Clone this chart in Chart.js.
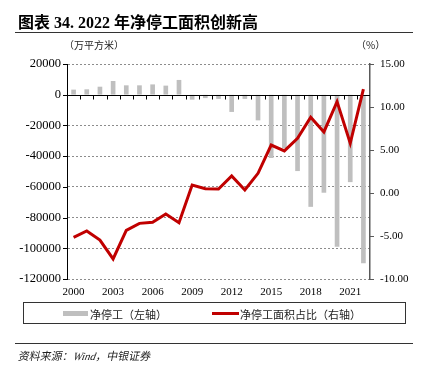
<!DOCTYPE html>
<html>
<head>
<meta charset="utf-8">
<script src="https://cdn.jsdelivr.net/npm/chart.js@4/dist/chart.umd.min.js"></script>
<style>
  body { margin: 0; background: #fff; }
  #wrap { position: relative; width: 423px; height: 368px; overflow: hidden; }
  #wrap canvas { position: absolute; left: 0; top: 0; }
  .txt { position: absolute; white-space: nowrap; color: #000; font-family: "Liberation Serif", "Noto Sans CJK SC", serif; }
  .rule { position: absolute; left: 15px; width: 398px; height: 1px; background: #333; }
  #legend { position: absolute; left: 23px; top: 302px; width: 381px; height: 20px; border: 1px solid #333; }
  .sw { position: absolute; }
  .lg { position: absolute; top: 3px; font: 11px "Noto Sans CJK SC", sans-serif; color: #222; }
</style>
</head>
<body>
<div id="wrap">
  <canvas id="chart" width="423" height="368"></canvas>
  <div class="txt" style="left:18px;top:9px;font-weight:bold;font-size:16px;">图表 34. 2022 年净停工面积创新高</div>
  <div class="rule" style="top:32px;"></div>
  <div class="txt" style="left:64px;top:37px;font:10px 'Noto Sans CJK SC',sans-serif;color:#222;">（万平方米）</div>
  <div class="txt" style="left:356px;top:37px;font:10px 'Noto Sans CJK SC',sans-serif;color:#222;">（%）</div>
  <div id="legend">
    <div class="sw" style="left:39px;top:8px;width:25px;height:5px;background:#bfbfbf;"></div>
    <div class="lg" style="left:66px;">净停工（左轴）</div>
    <div class="sw" style="left:188px;top:9px;width:27px;height:3px;background:#c00000;"></div>
    <div class="lg" style="left:216px;">净停工面积占比（右轴）</div>
  </div>
  <div class="rule" style="top:343px;"></div>
  <div class="txt" style="left:17px;top:347px;font:11px 'Liberation Serif','Noto Sans CJK SC',serif;color:#222;transform:skewX(-12deg);transform-origin:left bottom;">资料来源：<i>Wind</i>，中银证券</div>
</div>
<script>
const years = ['2000','2001','2002','2003','2004','2005','2006','2007','2008','2009','2010',
               '2011','2012','2013','2014','2015','2016','2017','2018','2019','2020','2021','2022'];
// 净停工（万平方米）
const netStoppage = [3100, 3300, 5000, 8700, 5900, 5900, 6500, 5700, 9400, -3000, -2000,
                     -2500, -11000, -2500, -16500, -41000, -34700, -49500, -72800, -63600, -98800, -56700, -109500];
// 净停工面积占比（%）
const stoppageShare = [-5.15, -4.42, -5.47, -7.67, -4.34, -3.53, -3.41, -2.44, -3.45, 0.93, 0.5,
                       0.47, 1.98, 0.35, 2.29, 5.58, 4.9, 6.36, 8.8, 7.1, 10.62, 5.78, 12.08];
const leftTicks = [20000, 0, -20000, -40000, -60000, -80000, -100000, -120000];
const rightTicks = [15, 10, 5, 0, -5, -10];

const tickFont = { family: "'Liberation Serif', serif", size: 11 };

// zero line with category ticks, plus outward tick marks on both y axes
const axisMarks = {
    id: 'axisMarks',
    afterDatasetDraw(chart, args) {
        if (args.meta.type !== 'bar') return;
        const { ctx, chartArea, scales } = chart;
        const x = scales.x, y = scales.y, y1 = scales.y1;
        const zy = Math.round(y.getPixelForValue(0)) + 0.5;
        ctx.save();
        ctx.strokeStyle = '#000';
        ctx.lineWidth = 1;
        ctx.beginPath();
        ctx.moveTo(chartArea.left, zy);
        ctx.lineTo(chartArea.right, zy);
        for (let i = 1; i < years.length; i++) {
            const bx = Math.round((x.getPixelForValue(i - 1) + x.getPixelForValue(i)) / 2) + 0.5;
            ctx.moveTo(bx, zy);
            ctx.lineTo(bx, zy + 4);
        }
        leftTicks.forEach(v => {
            const ty = Math.round(y.getPixelForValue(v)) + 0.5;
            ctx.moveTo(chartArea.left - 4, ty);
            ctx.lineTo(chartArea.left, ty);
        });
        ctx.stroke();
        ctx.strokeStyle = '#595959';
        ctx.beginPath();
        rightTicks.forEach(v => {
            const ty = Math.round(y1.getPixelForValue(v)) + 0.5;
            ctx.moveTo(chartArea.right, ty);
            ctx.lineTo(chartArea.right + 4, ty);
        });
        ctx.stroke();
        ctx.restore();
    }
};

new Chart(document.getElementById('chart'), {
    data: {
        labels: years,
        datasets: [{
            type: 'line',
            label: '净停工面积占比（右轴）',
            data: stoppageShare,
            yAxisID: 'y1',
            borderColor: '#c00000',
            borderWidth: 3,
            pointRadius: 0,
            tension: 0,
            order: 0
        }, {
            type: 'bar',
            label: '净停工（左轴）',
            data: netStoppage,
            yAxisID: 'y',
            backgroundColor: '#bfbfbf',
            barThickness: 4,
            order: 1
        }]
    },
    options: {
        responsive: false,
        animation: false,
        devicePixelRatio: 1,
        layout: { padding: { top: 64, left: 0, right: 0, bottom: 0 } },
        plugins: { legend: { display: false }, tooltip: { enabled: false } },
        scales: {
            x: {
                type: 'category',
                offset: true,
                grid: { display: false, drawTicks: false },
                border: { display: false },
                ticks: {
                    autoSkip: false, maxRotation: 0, padding: 7,
                    color: '#000', font: tickFont,
                    callback: (v, i) => i % 3 === 0 ? years[i] : ''
                },
                afterFit: s => { s.height = 89; }
            },
            y: {
                position: 'left',
                min: -120000, max: 20000,
                ticks: {
                    stepSize: 20000, padding: 6, color: '#000',
                    font: { family: "'Liberation Serif', serif", size: 12.5 },
                    callback: v => String(v)
                },
                grid: {
                    drawTicks: false,
                    color: c => c.tick && c.tick.value === 0 ? 'rgba(0,0,0,0)' : '#8c8c8c'
                },
                border: { display: true, color: '#000', width: 1, dash: [2, 2] },
                afterFit: s => { s.width = 67; }
            },
            y1: {
                position: 'right',
                min: -10, max: 15,
                ticks: { stepSize: 5, padding: 10, color: '#000', font: tickFont, callback: v => v.toFixed(2) },
                grid: { drawOnChartArea: false, drawTicks: false },
                border: { display: true, color: '#595959', width: 1.5 },
                afterFit: s => { s.width = 53; }
            }
        }
    },
    plugins: [axisMarks]
});
</script>
</body>
</html>
